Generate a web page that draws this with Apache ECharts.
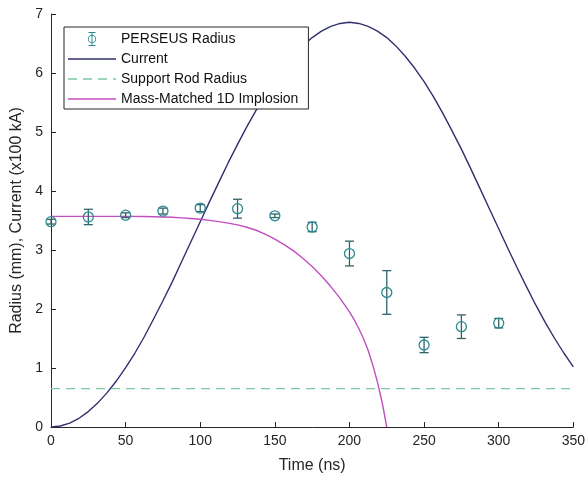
<!DOCTYPE html>
<html>
<head>
<meta charset="utf-8">
<title>PERSEUS Radius and Current</title>
<script src="https://cdn.jsdelivr.net/npm/echarts@6/dist/echarts.min.js"></script>
<style>
  html, body { margin: 0; padding: 0; background: #fff; }
  #chart { width: 588px; height: 481px; }
</style>
</head>
<body>
<div id="chart"></div>
<script>
// Measured radius with error bars
var perseusTime   = [0, 25, 50, 75, 100, 125, 150, 175, 200, 225, 250, 275, 300];
var perseusRadius = [3.48, 3.56, 3.59, 3.66, 3.71, 3.70, 3.58, 3.39, 2.94, 2.28, 1.39, 1.70, 1.76];
var perseusError  = [0.04, 0.13, 0.04, 0.05, 0.06, 0.16, 0.03, 0.08, 0.21, 0.37, 0.13, 0.20, 0.08];

// Drive current (x100 kA)
var currentTime  = [0, 6.25, 12.5, 18.75, 25, 31.25, 37.5, 43.75, 50, 56.25, 62.5, 68.75, 75, 81.25, 87.5, 93.75,
                    100, 106.25, 112.5, 118.75, 125, 131.25, 137.5, 143.75, 150, 156.25, 162.5, 168.75, 175, 181.25,
                    187.5, 193.75, 200, 206.25, 212.5, 218.75, 225, 231.25, 237.5, 243.75, 250, 256.25, 262.5, 268.75,
                    275, 281.25, 287.5, 293.75, 300, 306.25, 312.5, 318.75, 325, 331.25, 337.5, 343.75, 350];
var currentValue = [0, 0.017, 0.066, 0.148, 0.261, 0.405, 0.578, 0.779, 1.005, 1.254, 1.53, 1.83, 2.14, 2.46, 2.80, 3.14,
                    3.48, 3.82, 4.15, 4.48, 4.79, 5.09, 5.37, 5.64, 5.88, 6.10, 6.29, 6.46, 6.60, 6.71,
                    6.79, 6.84, 6.86, 6.84, 6.79, 6.71, 6.60, 6.455, 6.28, 6.08, 5.855, 5.60, 5.32, 5.02,
                    4.71, 4.38, 4.04, 3.70, 3.36, 3.02, 2.69, 2.37, 2.06, 1.77, 1.50, 1.25, 1.02];

// Support rod radius (mm)
var rodTime   = [0, 350];
var rodRadius = [0.65, 0.65];

// Mass-matched 1D implosion trajectory (mm)
var implTime   = [0, 25, 50, 62.5, 75, 81.25, 87.5, 93.75, 100, 106.25, 112.5, 118.75, 125, 131.25, 137.5, 143.75,
                  150, 156.25, 162.5, 168.75, 175, 181.25, 187.5, 193.75, 200, 203.125, 206.25, 209.375, 212.5,
                  215.625, 218.75, 221.875, 225];
var implRadius = [3.57, 3.57, 3.57, 3.567, 3.56, 3.555, 3.545, 3.535, 3.52, 3.502, 3.48, 3.455, 3.425, 3.385, 3.335, 3.265,
                  3.185, 3.09, 2.985, 2.86, 2.72, 2.56, 2.38, 2.18, 1.95, 1.82, 1.67, 1.50, 1.30,
                  1.05, 0.76, 0.42, 0];

// Axis ticks
var xTicks = [0, 50, 100, 150, 200, 250, 300, 350];
var yTicks = [0, 1, 2, 3, 4, 5, 6, 7];

function pairs(xs, ys) {
  return xs.map(function (x, i) { return [x, ys[i]]; });
}

var perseusData = perseusTime.map(function (t, i) {
  return [t, perseusRadius[i], perseusError[i]];
});

var teal = '#2c8b90';
var tealDark = '#2f6468';
var navy = '#30306c';
var rodGreen = '#7cc9a2';
var magenta = '#c04fbf';
var textColor = '#262626';
var font = '"Liberation Sans", Arial, sans-serif';

// Legend glyphs
var errorIcon = 'path://' +
  'M2 0H10V1.2H2Z' +
  'M2 14.8H10V16H2Z' +
  'M5.45 0H6.55V3.4H5.45Z' +
  'M5.45 12.6H6.55V16H5.45Z' +
  'M5.45 4.3H6.55V11.7H5.45Z' +
  'M10.6 8A4.6 4.6 0 1 0 1.4 8A4.6 4.6 0 1 0 10.6 8Z' +
  'M9.7 8A3.7 3.7 0 1 1 2.3 8A3.7 3.7 0 1 1 9.7 8Z';
var solidIcon = 'path://M0 0H48V1.4H0Z';
var dashIcon = 'path://M0 0H9V1.3H0ZM15 0H24V1.3H15ZM30 0H39V1.3H30ZM45 0H48V1.3H45Z';

var chart = echarts.init(document.getElementById('chart'), null, { renderer: 'canvas' });

chart.setOption({
  animation: false,
  backgroundColor: '#ffffff',
  textStyle: { fontFamily: font },
  grid: { left: 51, right: 11, top: 14, bottom: 54, containLabel: false },
  legend: {
    orient: 'vertical',
    left: 64,
    top: 27,
    padding: [5, 10, 3, 4],
    itemWidth: 48,
    itemHeight: 14,
    itemGap: 6,
    symbolKeepAspect: true,
    backgroundColor: '#ffffff',
    borderColor: '#262626',
    borderWidth: 1,
    borderRadius: 0,
    textStyle: { fontSize: 14, color: '#111', fontFamily: font },
    data: [
      { name: 'PERSEUS Radius', icon: errorIcon },
      { name: 'Current', icon: solidIcon },
      { name: 'Support Rod Radius', icon: dashIcon },
      { name: 'Mass-Matched 1D Implosion', icon: solidIcon }
    ]
  },
  xAxis: {
    type: 'value',
    min: xTicks[0],
    max: xTicks[xTicks.length - 1],
    interval: xTicks[1] - xTicks[0],
    name: 'Time (ns)',
    nameLocation: 'middle',
    nameGap: 31,
    nameTextStyle: { fontSize: 16, color: textColor, fontFamily: font },
    axisLine: { onZero: false, lineStyle: { color: '#262626', width: 1 } },
    axisTick: { inside: true, length: 5, lineStyle: { color: '#262626' } },
    axisLabel: { fontSize: 14, color: textColor, margin: 7, fontFamily: font },
    splitLine: { show: false }
  },
  yAxis: {
    type: 'value',
    min: yTicks[0],
    max: yTicks[yTicks.length - 1],
    interval: yTicks[1] - yTicks[0],
    name: 'Radius (mm), Current (x100 kA)',
    nameLocation: 'middle',
    nameRotate: 90,
    nameGap: 25,
    nameTextStyle: { fontSize: 16, color: textColor, fontFamily: font },
    axisLine: { show: true, onZero: false, lineStyle: { color: '#262626', width: 1 } },
    axisTick: { show: true, inside: true, length: 5, lineStyle: { color: '#262626' } },
    axisLabel: { fontSize: 14, color: textColor, margin: 8, fontFamily: font },
    splitLine: { show: false }
  },
  series: [
    {
      name: 'PERSEUS Radius',
      type: 'custom',
      z: 3,
      clip: false,
      itemStyle: { color: teal },
      data: perseusData,
      encode: { x: 0, y: 1 },
      renderItem: function (params, api) {
        var t = api.value(0), r = api.value(1), e = api.value(2);
        var c = api.coord([t, r]);
        var hi = api.coord([t, r + e]);
        var lo = api.coord([t, r - e]);
        var cap = 4.5;
        var barStyle = { stroke: tealDark, lineWidth: 1.3, fill: null };
        return {
          type: 'group',
          children: [
            { type: 'line', shape: { x1: c[0], y1: hi[1], x2: c[0], y2: lo[1] }, style: barStyle },
            { type: 'line', shape: { x1: c[0] - cap, y1: hi[1], x2: c[0] + cap, y2: hi[1] }, style: barStyle },
            { type: 'line', shape: { x1: c[0] - cap, y1: lo[1], x2: c[0] + cap, y2: lo[1] }, style: barStyle },
            { type: 'circle', shape: { cx: c[0], cy: c[1], r: 5 }, style: { stroke: teal, lineWidth: 1.3, fill: 'none' } }
          ]
        };
      }
    },
    {
      name: 'Current',
      type: 'line',
      z: 2,
      data: pairs(currentTime, currentValue),
      showSymbol: false,
      symbol: 'none',
      itemStyle: { color: navy },
      lineStyle: { color: navy, width: 1.4, join: 'round' }
    },
    {
      name: 'Support Rod Radius',
      type: 'line',
      z: 2,
      data: pairs(rodTime, rodRadius),
      showSymbol: false,
      symbol: 'none',
      itemStyle: { color: rodGreen },
      lineStyle: { color: rodGreen, width: 1.2, type: [9, 6] }
    },
    {
      name: 'Mass-Matched 1D Implosion',
      type: 'line',
      z: 2,
      data: pairs(implTime, implRadius),
      showSymbol: false,
      symbol: 'none',
      itemStyle: { color: magenta },
      lineStyle: { color: magenta, width: 1.4, join: 'round' }
    }
  ]
});
</script>
</body>
</html>
